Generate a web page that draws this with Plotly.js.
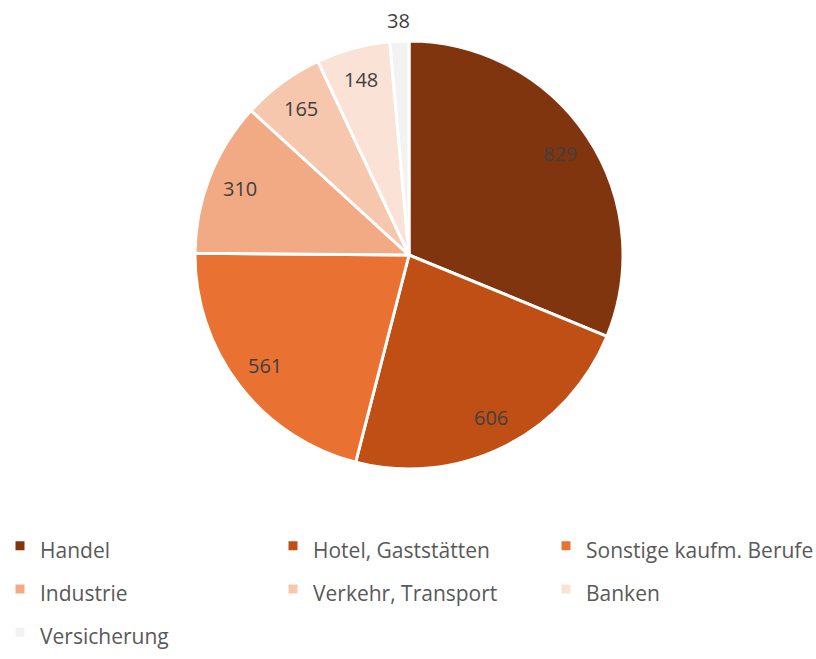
<!DOCTYPE html>
<html>
<head>
<meta charset="utf-8">
<script src="https://cdn.plot.ly/plotly-3.0.1.min.js"></script>
<style>html,body{margin:0;padding:0;background:#fff;}#chart{width:816px;height:659px;}</style>
</head>
<body>
<div id="chart"></div>
<script>
const categories = ["Handel", "Hotel, Gaststätten", "Sonstige kaufm. Berufe", "Industrie", "Verkehr, Transport", "Banken", "Versicherung"];
const values = [829, 606, 561, 310, 165, 148, 38];
const colors = ["#80350E", "#BF4F15", "#E97132", "#F2AA84", "#F6C6AD", "#FAE2D6", "#F2F2F2"];
const labelOutside = [false, false, false, false, false, false, true];

const FONT = "Open Sans, Liberation Sans, Arial, sans-serif";
const W = 816, H = 659;
const domX = [195 / W, 623 / W], domY = [190 / H, 618 / H];

const trace = {
  type: "pie",
  labels: categories.map(c => '<span style="font-size:21px">' + c + '</span>'),
  values: values,
  sort: false,
  direction: "clockwise",
  rotation: 0,
  marker: { colors: colors, line: { color: "#FFFFFF", width: 3 } },
  textinfo: "none",
  hoverinfo: "label+value",
  domain: { x: domX, y: domY }
};

// Data labels placed at each slice's mid-angle (Excel-style radius)
const total = values.reduce((a, b) => a + b, 0);
const cxp = (domX[0] + domX[1]) / 2, cyp = (domY[0] + domY[1]) / 2;
const Rpx = Math.min((domX[1] - domX[0]) * W, (domY[1] - domY[0]) * H) / 2;
let cum = 0;
const annotations = values.map((v, i) => {
  const mid = (cum + v / 2) / total * 2 * Math.PI;
  cum += v;
  const r = labelOutside[i] ? Rpx + 21 : Rpx * 0.85;
  return {
    x: cxp + r * Math.sin(mid) / W,
    y: cyp + r * Math.cos(mid) / H,
    xref: "paper", yref: "paper",
    xanchor: "center", yanchor: "middle",
    text: String(v),
    showarrow: false,
    font: { family: FONT, size: 20, color: "#404040" }
  };
});

const layout = {
  width: W,
  height: H,
  margin: { l: 0, r: 0, t: 0, b: 0 },
  paper_bgcolor: "#FFFFFF",
  showlegend: true,
  annotations: annotations,
  legend: {
    orientation: "h",
    x: 0,
    xanchor: "left",
    y: 0,
    yanchor: "bottom",
    entrywidth: 228,
    entrywidthmode: "pixels",
    itemwidth: 30,
    font: { family: FONT, size: 31, color: "#595959" },
    traceorder: "normal"
  }
};

Plotly.newPlot("chart", [trace], layout, { displayModeBar: false, staticPlot: true });
</script>
</body>
</html>
